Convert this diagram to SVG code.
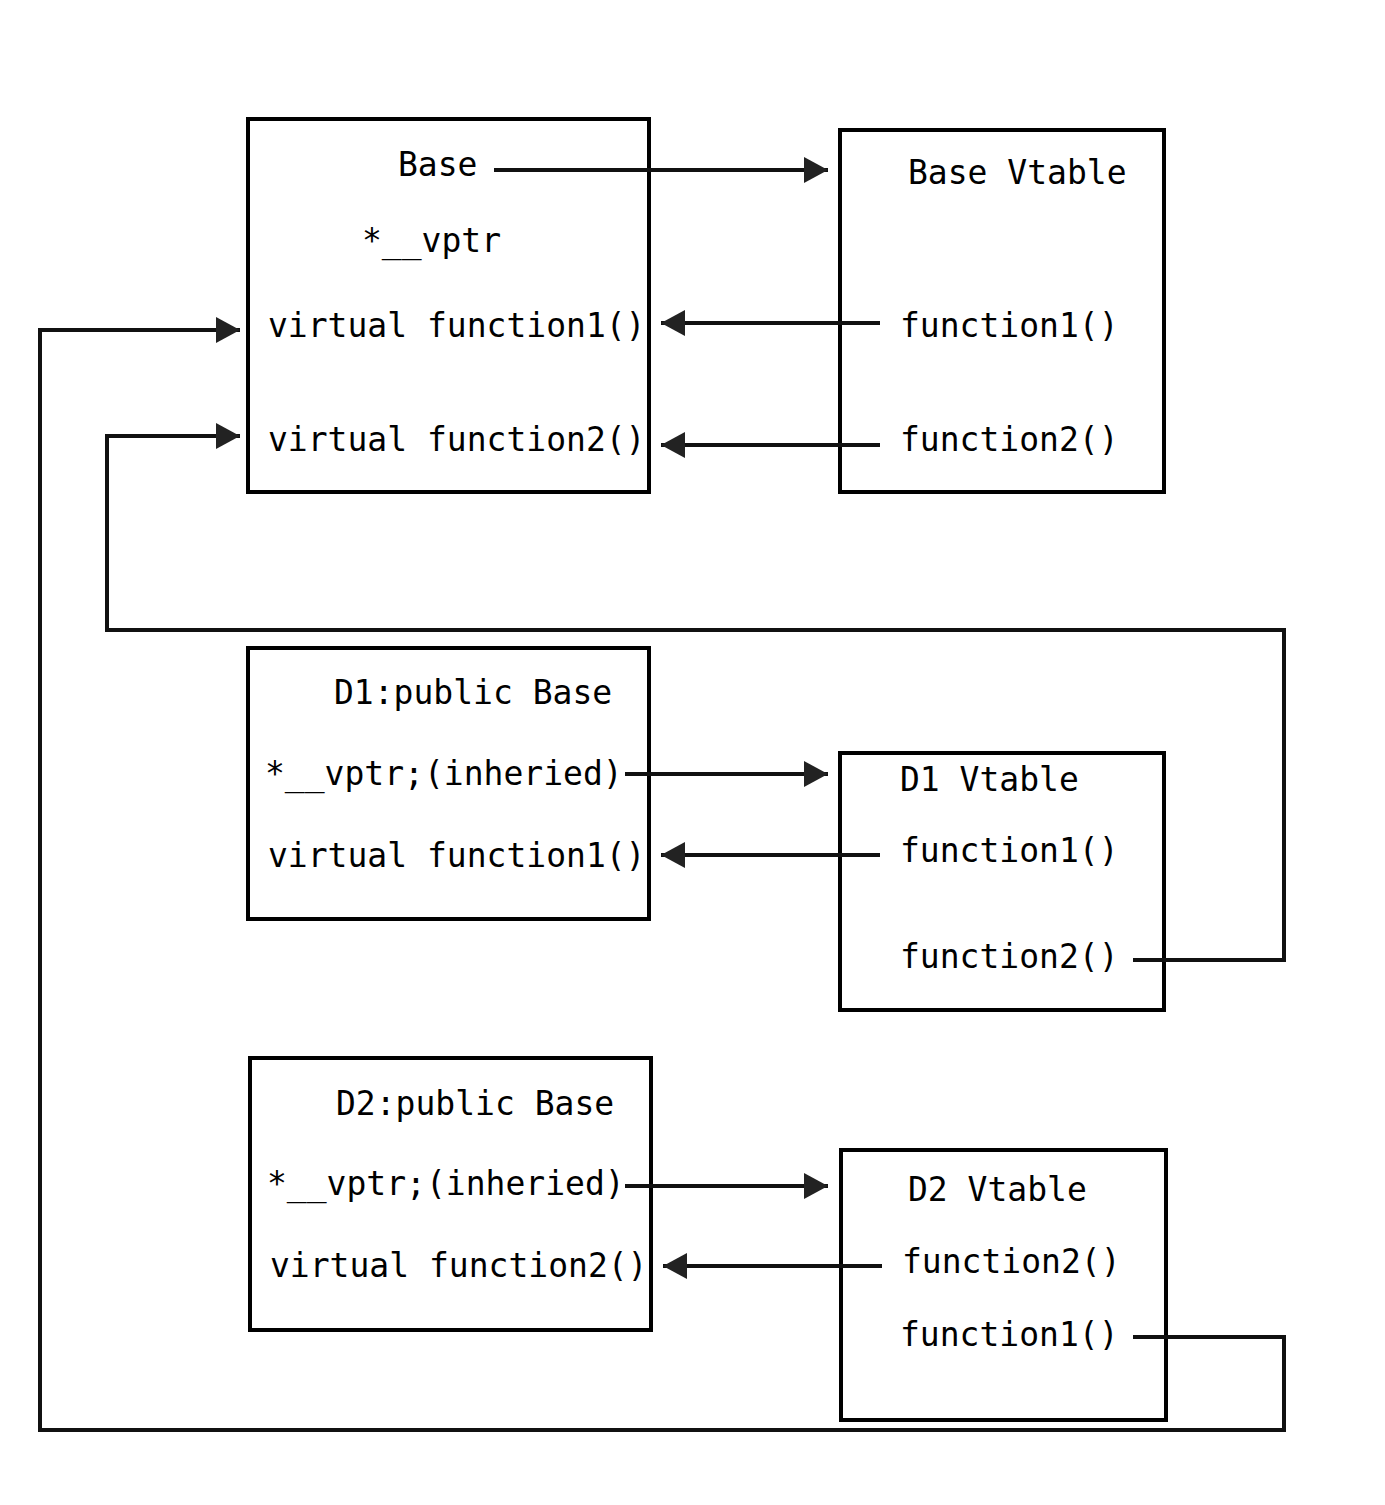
<svg xmlns="http://www.w3.org/2000/svg" width="1385" height="1505" viewBox="0 0 1385 1505">
<style>
.box{fill:none;stroke:#000;stroke-width:4}
.t{font-family:"DejaVu Sans Mono",monospace;font-size:33px;fill:#000}
.c{fill:none;stroke:#111;stroke-width:4}
.a{marker-end:url(#ah)}
</style>
<defs>
<marker id="ah" markerUnits="userSpaceOnUse" markerWidth="24" markerHeight="26" refX="24" refY="13" orient="auto">
<path d="M0,0 L24,13 L0,26 Z" fill="#222"/>
</marker>
</defs>
<rect width="1385" height="1505" fill="#fff"/>
<g id="base">
<rect class="box" x="248" y="119" width="401" height="373"/>
<text class="t" x="398" y="176">Base</text>
<text class="t" x="362" y="252">*__vptr</text>
<text class="t" x="268" y="337">virtual function1()</text>
<text class="t" x="268" y="451">virtual function2()</text>
</g>
<g id="base-vtable">
<rect class="box" x="840" y="130" width="324" height="362"/>
<text class="t" x="908" y="184">Base Vtable</text>
<text class="t" x="900" y="337">function1()</text>
<text class="t" x="900" y="451">function2()</text>
</g>
<g id="d1">
<rect class="box" x="248" y="648" width="401" height="271"/>
<text class="t" x="334" y="704">D1:public Base</text>
<text class="t" x="265" y="785">*__vptr;(inheried)</text>
<text class="t" x="268" y="867">virtual function1()</text>
</g>
<g id="d1-vtable">
<rect class="box" x="840" y="753" width="324" height="257"/>
<text class="t" x="900" y="791">D1 Vtable</text>
<text class="t" x="900" y="862">function1()</text>
<text class="t" x="900" y="968">function2()</text>
</g>
<g id="d2">
<rect class="box" x="250" y="1058" width="401" height="272"/>
<text class="t" x="336" y="1115">D2:public Base</text>
<text class="t" x="267" y="1195">*__vptr;(inheried)</text>
<text class="t" x="270" y="1277">virtual function2()</text>
</g>
<g id="d2-vtable">
<rect class="box" x="841" y="1150" width="325" height="270"/>
<text class="t" x="908" y="1201">D2 Vtable</text>
<text class="t" x="902" y="1273">function2()</text>
<text class="t" x="900" y="1346">function1()</text>
</g>
<g id="connectors">
<path class="c a" d="M494,170 H828"/>
<path class="c a" d="M880,323 H661"/>
<path class="c a" d="M880,445 H661"/>
<path class="c a" d="M625,774 H828"/>
<path class="c a" d="M880,855 H661"/>
<path class="c a" d="M1133,960 H1284 V630 H107 V436 H240"/>
<path class="c a" d="M625,1186 H828"/>
<path class="c a" d="M882,1266 H663"/>
<path class="c a" d="M1133,1337 H1284 V1430 H40 V330 H240"/>
</g>
</svg>
